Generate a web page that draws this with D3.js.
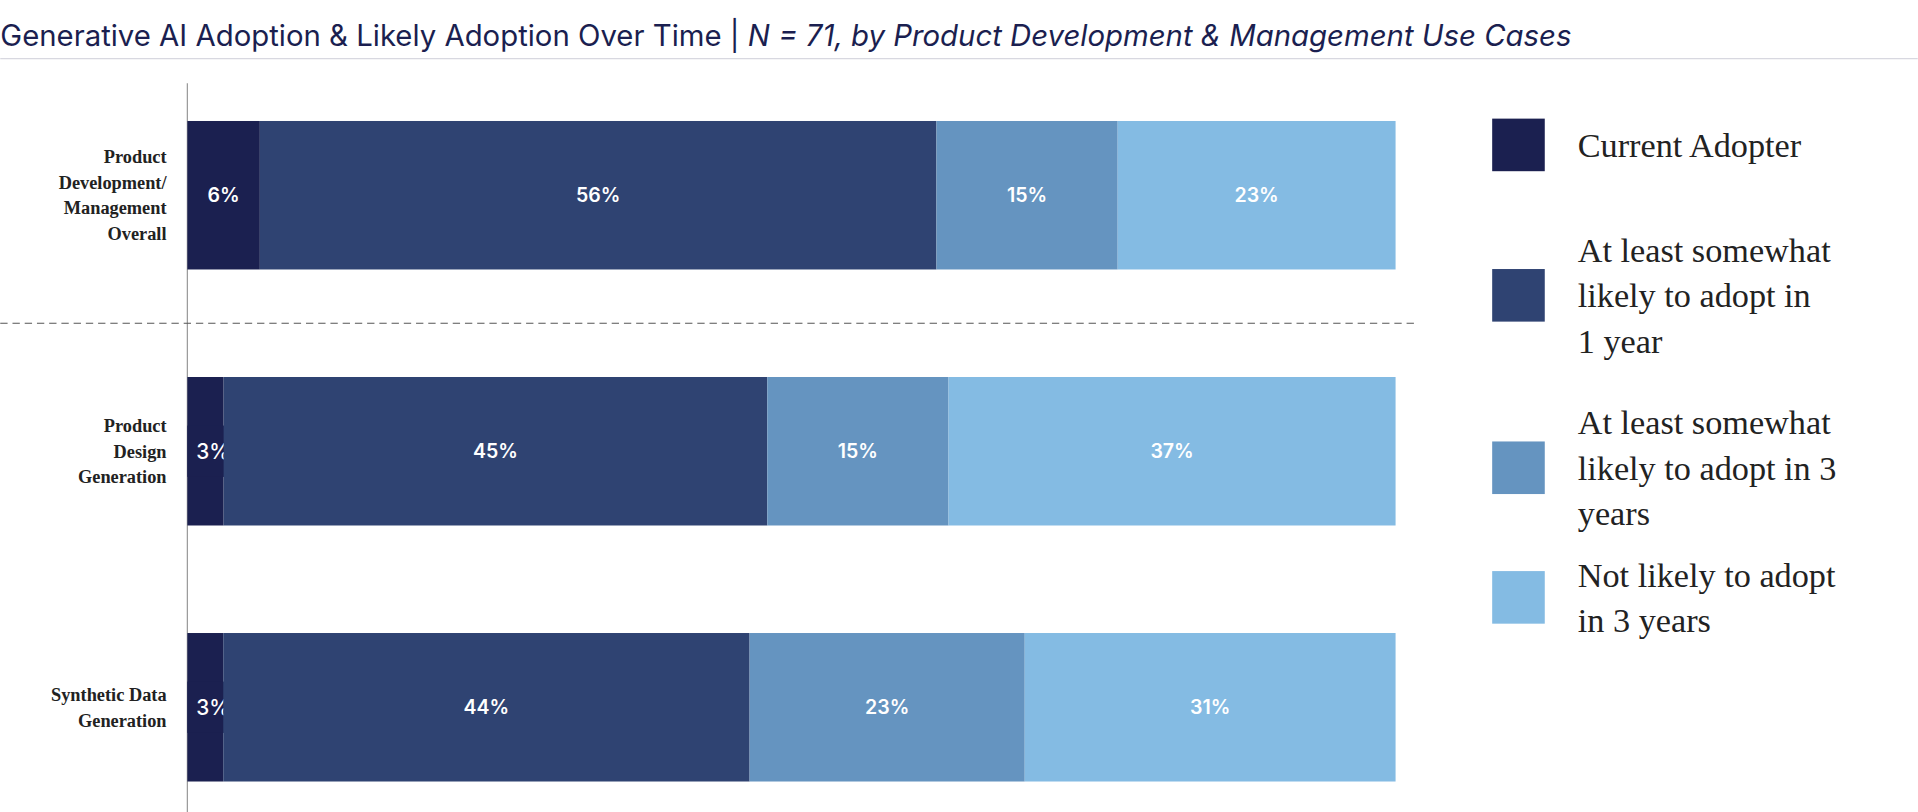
<!DOCTYPE html>
<html><head><meta charset="utf-8">
<script src="https://cdn.jsdelivr.net/npm/d3@7"></script>
<style>body{margin:0;background:#fff}</style>
</head><body><div id="chart"></div>
<script>
const categories = [['Product', 'Development/', 'Management', 'Overall'], ['Product', 'Design', 'Generation'], ['Synthetic Data', 'Generation']];
const seriesNames = ['Current Adopter', 'At least somewhat likely to adopt in 1 year', 'At least somewhat likely to adopt in 3 years', 'Not likely to adopt in 3 years'];
const legendLines = [['Current Adopter'], ['At least somewhat', 'likely to adopt in', '1 year'], ['At least somewhat', 'likely to adopt in 3', 'years'], ['Not likely to adopt', 'in 3 years']];
const values = [[6, 56, 15, 23], [3, 45, 15, 37], [3, 44, 23, 31]];
const colors = ['#1b2050', '#2f4372', '#6594c0', '#84bbe3'];

const W = 1568, H = 664;
const svg = d3.select('#chart').append('svg')
  .attr('width', 1918).attr('height', 812)
  .attr('viewBox', `0 0 ${W} ${H}`);

// Title
const title = svg.append('text').attr('x', 0).attr('y', 38)
  .attr('font-family', 'Inter, sans-serif').attr('font-size', 24).attr('fill', '#1b1f50');
title.append('tspan').text('Generative AI Adoption & Likely Adoption Over Time | ');
title.append('tspan').attr('font-style', 'italic').text('N = 71, by Product Development & Management Use Cases');
svg.append('line').attr('x1', 0).attr('x2', W).attr('y1', 48).attr('y2', 48)
  .attr('stroke', '#d8d8e0').attr('stroke-width', 1);

const x = d3.scaleLinear().domain([0, 1]).range([153, 1141]);
const y = d3.scaleBand().domain(d3.range(categories.length)).range([78, 660]).paddingInner(0.42).paddingOuter(0.1);

// axis line
svg.append('line').attr('x1', 153).attr('x2', 153).attr('y1', 68).attr('y2', H)
  .attr('stroke', '#999').attr('stroke-width', 1);

// dashed separator
svg.append('line').attr('x1', 0).attr('x2', 1158)
  .attr('y1', (y(0) + y.bandwidth() + y(1)) / 2).attr('y2', (y(0) + y.bandwidth() + y(1)) / 2)
  .attr('stroke', '#555').attr('stroke-dasharray', '6 4').attr('stroke-width', 1);

values.forEach((row, i) => {
  const total = d3.sum(row);
  let acc = 0;
  const g = svg.append('g');
  row.forEach((v, j) => {
    const x0 = x(acc / total), x1 = x((acc + v) / total);
    acc += v;
    g.append('rect').attr('x', x0).attr('y', y(i)).attr('width', x1 - x0).attr('height', y.bandwidth())
      .attr('fill', colors[j]);
    const cy = y(i) + y.bandwidth() / 2;
    if (x1 - x0 > 50) {
      g.append('text').attr('x', (x0 + x1) / 2).attr('y', cy).attr('dy', '0.35em')
        .attr('text-anchor', 'middle').attr('fill', '#fff')
        .attr('font-family', 'Inter, sans-serif').attr('font-weight', 600).attr('font-size', 16)
        .text(v + '%');
    } else {
      g.append('rect').attr('x', x0).attr('y', cy - 21).attr('width', 42).attr('height', 42).attr('fill', colors[j]);
      g.append('text').attr('x', x0 + 21).attr('y', cy).attr('dy', '0.35em')
        .attr('text-anchor', 'middle').attr('fill', '#fff')
        .attr('font-family', 'Inter, sans-serif').attr('font-weight', 500).attr('font-size', 17)
        .text(v + '%');
    }
  });
  const lines = categories[i];
  const cy = y(i) + y.bandwidth() / 2;
  const t = svg.append('text').attr('text-anchor', 'end')
    .attr('font-family', '"Liberation Serif", serif').attr('font-weight', 'bold')
    .attr('font-size', 15).attr('fill', '#222');
  lines.forEach((l, k) => {
    t.append('tspan').attr('x', 136).attr('y', cy + (k - (lines.length - 1) / 2) * 21).attr('dy', '0.35em').text(l);
  });
});

// Legend
const legendY = [97, 220, 361, 467];
legendLines.forEach((lines, i) => {
  svg.append('rect').attr('x', 1220).attr('y', legendY[i]).attr('width', 43).attr('height', 43).attr('fill', colors[i]);
  const cy = legendY[i] + 21.5;
  const t = svg.append('text').attr('font-family', '"Liberation Serif", serif')
    .attr('font-size', 28).attr('fill', '#222');
  lines.forEach((l, k) => {
    t.append('tspan').attr('x', 1290).attr('y', cy + (k - (lines.length - 1) / 2) * 37).attr('dy', '0.35em').text(l);
  });
});
</script></body></html>
